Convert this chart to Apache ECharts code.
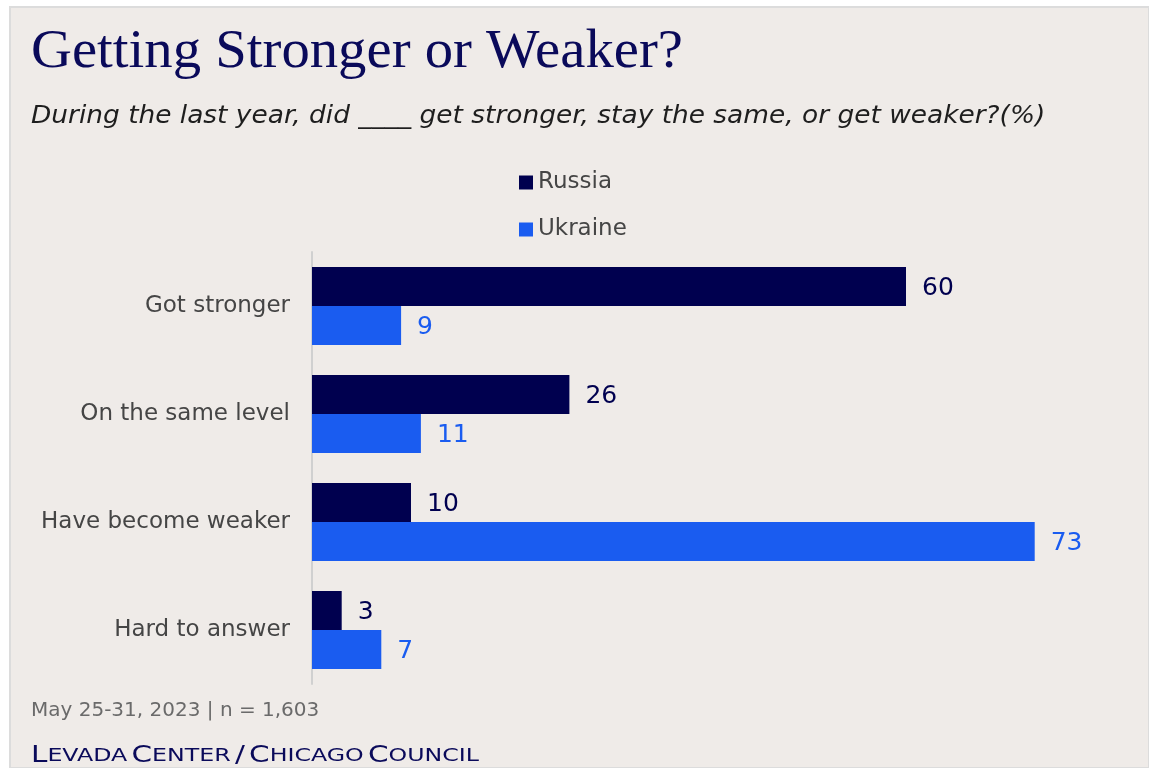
<!DOCTYPE html>
<html>
<head>
<meta charset="utf-8">
<script src="https://cdn.jsdelivr.net/npm/echarts@6/dist/echarts.min.js"></script>
<style>
html,body{margin:0;padding:0;background:#ffffff;}
#chart{width:1149px;height:768px;}
</style>
</head>
<body>
<div id="chart"></div>
<script>
const categories = ['Got stronger', 'On the same level', 'Have become weaker', 'Hard to answer'];
const russia = [60, 26, 10, 3];
const ukraine = [9, 11, 73, 7];
const seriesNames = ['Russia', 'Ukraine'];

const navy = '#00004f';
const blue = '#1a5cf0';
const sans = 'DejaVu Sans';
const chart = echarts.init(document.getElementById('chart'));
chart.setOption({
  backgroundColor: '#ffffff',
  animation: false,
  graphic: [
    { type: 'rect', shape: { x: 10, y: 7, width: 1139, height: 761 }, style: { fill: '#efebe8', stroke: '#dcdcdc', lineWidth: 2 }, z: -10 },
    { type: 'text', x: 31, y: 26, scaleX: 1.05, style: { text: 'Getting Stronger or Weaker?', font: '54px "Liberation Serif"', fill: '#0a0a5a' } },
    { type: 'text', x: 31, y: 105, scaleX: 1.10, style: { text: 'During the last year, did ____ get stronger, stay the same, or get weaker?(%)', font: 'italic 24px "DejaVu Sans"', fill: '#1e1e1e' } },
    { type: 'text', x: 31, y: 701, style: { text: 'May 25-31, 2023 | n = 1,603', font: '20px "DejaVu Sans"', fill: '#6a6a6a' } },
    { type: 'text', x: 31, y: 745, scaleX: 1.28, style: {
      text: '{b|L}{s|EVADA} {b|C}{s|ENTER} {b|/} {b|C}{s|HICAGO} {b|C}{s|OUNCIL}',
      rich: {
        b: { fontSize: 23, fontFamily: sans, fill: '#0a0a5a' },
        s: { fontSize: 18.5, fontFamily: sans, fill: '#0a0a5a' }
      }
    } }
  ],
  legend: {
    orient: 'vertical',
    left: 514,
    top: 166,
    itemWidth: 14,
    itemHeight: 14,
    itemGap: 24,
    icon: 'rect',
    data: seriesNames,
    textStyle: { fontSize: 23, color: '#454545', fontFamily: sans }
  },
  grid: { left: 312, top: 252, width: 792, height: 432, containLabel: false },
  xAxis: {
    type: 'value', min: 0, max: 80,
    show: false
  },
  yAxis: {
    type: 'category',
    data: categories,
    inverse: true,
    axisLine: { show: true, lineStyle: { color: '#d0d0d0', width: 2 } },
    axisTick: { show: false },
    axisLabel: { fontSize: 23, color: '#454545', fontFamily: sans, margin: 22 }
  },
  series: [
    {
      name: seriesNames[0], type: 'bar', data: russia, barGap: '0%', barCategoryGap: '28%',
      itemStyle: { color: navy },
      label: { show: true, position: 'right', distance: 16, fontSize: 25, color: navy, fontFamily: sans, offset: [0, 2] }
    },
    {
      name: seriesNames[1], type: 'bar', data: ukraine, barGap: '0%', barCategoryGap: '28%',
      itemStyle: { color: blue },
      label: { show: true, position: 'right', distance: 16, fontSize: 25, color: blue, fontFamily: sans, offset: [0, 2] }
    }
  ]
});
</script>
</body>
</html>
